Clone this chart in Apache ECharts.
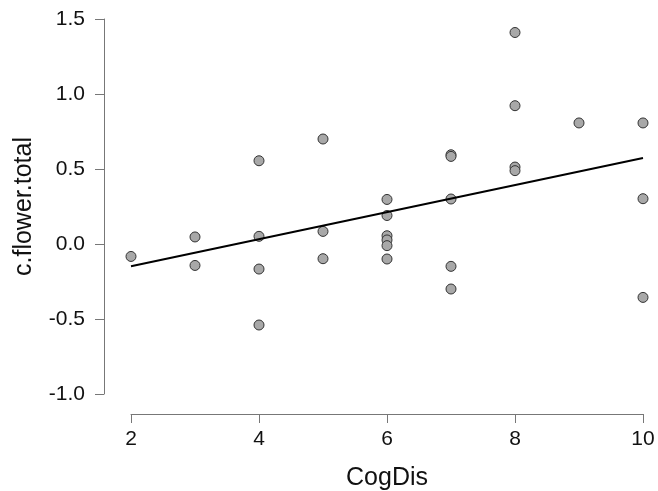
<!DOCTYPE html>
<html>
<head>
<meta charset="utf-8">
<script src="https://cdn.jsdelivr.net/npm/echarts@6/dist/echarts.min.js"></script>
<style>html,body{margin:0;padding:0;background:#fff}#c{width:658px;height:491px}</style>
</head>
<body>
<div id="c"></div>
<script>
var cogDis = [2, 3, 3, 4, 4, 4, 4, 5, 5, 5, 6, 6, 6, 6, 6, 6, 7, 7, 7, 7, 7, 8, 8, 8, 8, 9, 10, 10, 10];
var flowerTotal = [-0.083, 0.047, -0.143, 0.555, 0.051, -0.167, -0.54, 0.70, 0.084, -0.098, 0.297, 0.19, 0.055, 0.027, -0.011, -0.10, 0.595, 0.584, 0.30, -0.149, -0.30, 1.41, 0.922, 0.513, 0.489, 0.807, 0.807, 0.302, -0.356];
var fitX = [2, 10];
var fitY = [-0.149, 0.573];
var xTicks = [2, 4, 6, 8, 10];
var yTicks = [-1.0, -0.5, 0.0, 0.5, 1.0, 1.5];

var pts = cogDis.map(function (x, i) { return [x, flowerTotal[i]]; });
var fit = fitX.map(function (x, i) { return [x, fitY[i]]; });

var chart = echarts.init(document.getElementById('c'), null, {renderer: 'canvas'});
var axisColor = '#777';
var textColor = '#111';
var font = 'Liberation Sans, Arial, sans-serif';
chart.setOption({
  animation: false,
  backgroundColor: '#fff',
  grid: {left: 131, right: 15, top: 19, height: 375, containLabel: false, outerBoundsMode: 'none'},
  xAxis: {
    type: 'value', min: xTicks[0], max: xTicks[xTicks.length - 1], interval: 2,
    offset: 20,
    name: 'CogDis', nameLocation: 'middle', nameGap: 52,
    nameTextStyle: {fontSize: 25, color: textColor, fontFamily: font},
    axisLine: {show: true, onZero: false, lineStyle: {color: axisColor, width: 1}},
    axisTick: {show: true, length: 9, lineStyle: {color: axisColor}},
    axisLabel: {fontSize: 21, color: textColor, fontFamily: font, margin: 15},
    splitLine: {show: false}
  },
  yAxis: {
    type: 'value', min: yTicks[0], max: yTicks[yTicks.length - 1], interval: 0.5,
    offset: 27,
    name: 'c.flower.total', nameLocation: 'middle', nameGap: 67,
    nameTextStyle: {fontSize: 25, color: textColor, fontFamily: font},
    axisLine: {show: true, onZero: false, lineStyle: {color: axisColor, width: 1}},
    axisTick: {show: true, length: 9, lineStyle: {color: axisColor}},
    axisLabel: {fontSize: 21, color: textColor, fontFamily: font, margin: 19,
      formatter: function (v) { return v.toFixed(1); }},
    splitLine: {show: false}
  },
  series: [
    {
      type: 'line', data: fit, symbol: 'none', z: 3,
      lineStyle: {color: '#000', width: 2}
    },
    {
      type: 'scatter', data: pts, symbol: 'circle', symbolSize: 10, z: 2,
      itemStyle: {color: '#a8a8a8', borderColor: '#333', borderWidth: 1, opacity: 1}
    }
  ]
});
</script>
</body>
</html>
